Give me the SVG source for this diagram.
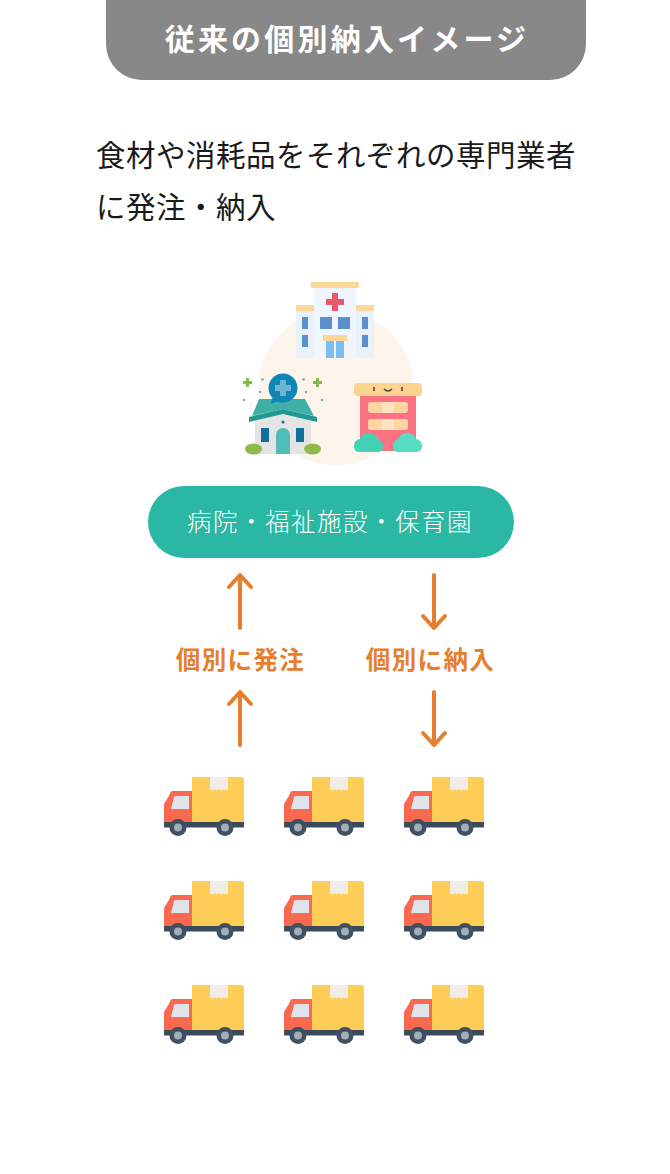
<svg xmlns="http://www.w3.org/2000/svg" width="670" height="1174" viewBox="0 0 670 1174">
<style>
text{font-family:"Noto Sans CJK JP","Noto Sans",sans-serif}
.h{font-size:30px;font-weight:700;fill:#fff;letter-spacing:3.2px}
.b{font-size:29.5px;fill:#1a1a1a;letter-spacing:.5px}
.p{font-size:24.5px;fill:#fff;font-weight:300;letter-spacing:1.5px}
.o{font-size:24.5px;font-weight:700;fill:#e67e2e;letter-spacing:1.4px}
.a{fill:none;stroke:#e67e2e;stroke-width:4;stroke-linecap:round;stroke-linejoin:round}
</style>
<defs>
<g id="truck">
<path d="M28 0h49a3 3 0 0 1 3 3v43H28z" fill="#fecd57"/>
<path d="M46 0h18v12l-2 1.500-2-1-2 1-3-1-2 1-2-1-3 1-2-1z" fill="#f0ede6"/>
<path d="M6 17a3 3 0 0 1 3-3h19v32H0V27z" fill="#f8694f"/>
<path d="M10 20a2 2 0 0 1 1.500-1H25v13H7z" fill="#dfe3ea"/>
<rect x="0" y="45" width="80" height="5.500" fill="#3a4b5c"/>
<circle cx="14" cy="50.500" r="8.500" fill="#3f5163"/><circle cx="14" cy="50.500" r="4" fill="#a5adb6"/>
<circle cx="61" cy="50.500" r="8.500" fill="#3f5163"/><circle cx="61" cy="50.500" r="4" fill="#a5adb6"/>
</g>
</defs>
<rect width="670" height="1174" fill="#fff"/>
<g id="header"><path d="M106 0H586V44a36 36 0 0 1-36 36H142a36 36 0 0 1-36-36z" fill="#888"/><text class="h" x="347" y="50" text-anchor="middle">従来の個別納入イメージ</text></g>
<g id="description"><text class="b" x="96" y="166">食材や消耗品をそれぞれの専門業者</text><text class="b" x="96" y="218">に発注・納入</text></g>
<g id="facilities">
<circle cx="336" cy="388" r="77.500" fill="#fdf5ec"/>
<g id="hospital">
<rect x="296" y="311" width="78" height="47" fill="#e9f2fc"/><rect x="314" y="288" width="42" height="70" fill="#f0f6fd"/>
<rect x="311" y="282" width="48" height="6" rx="1" fill="#fbd79a"/><rect x="296" y="305" width="18" height="6" fill="#fbd79a"/><rect x="356" y="305" width="18" height="6" fill="#fbd79a"/>
<path d="M332 293h6v6h6v6h-6v6h-6v-6h-6v-6h6z" fill="#e8586a"/>
<g fill="#5b8fd0"><rect x="302" y="317" width="6" height="12"/><rect x="302" y="335" width="6" height="12"/><rect x="362" y="317" width="6" height="12"/><rect x="362" y="335" width="6" height="12"/><rect x="320" y="317" width="12" height="12"/><rect x="338" y="317" width="12" height="12"/></g>
<rect x="323" y="335" width="24" height="6" fill="#fbd79a"/><rect x="326" y="341" width="8" height="17" fill="#7dbcf0"/><rect x="336" y="341" width="8" height="17" fill="#7dbcf0"/>
</g>
<g id="clinic">
<rect x="255" y="415" width="56" height="39" fill="#e4e4e4"/>
<path d="M259 399h46l9 17-31-7-31 7z" fill="#3fb0a8"/><path d="M249 417l34-8 34 8v5l-34-8-34 8z" fill="#1f9a92"/>
<circle cx="283" cy="388" r="14.500" fill="#0f86b4"/><path d="M272 398l-1 6 8-3z" fill="#0f86b4"/><path d="M280 380h6v5h5v6h-5v5h-6v-5h-5v-6h5z" fill="#6fb6d2"/>
<circle cx="283" cy="422" r="1.500" fill="#126f9c"/>
<rect x="261" y="428" width="8" height="14" fill="#126f9c"/><rect x="296" y="428" width="8" height="14" fill="#126f9c"/>
<path d="M276 454v-19a7 7 0 0 1 14 0v19z" fill="#4fbcb8"/>
<ellipse cx="253.500" cy="449" rx="8.500" ry="5.500" fill="#8dbb48"/><ellipse cx="312.500" cy="449" rx="8.500" ry="5.500" fill="#8dbb48"/>
<path d="M246 378h3v3h3v3h-3v3h-3v-3h-3v-3h3zM316 378h3v3h3v3h-3v3h-3v-3h-3v-3h3z" fill="#84b94a"/>
<g fill="#6ba9b5"><circle cx="262.500" cy="379.500" r="1.200"/><circle cx="303.500" cy="379.500" r="1.200"/><circle cx="260" cy="392" r="1.200"/><circle cx="306" cy="392" r="1.200"/><circle cx="244" cy="400" r="1.200"/><circle cx="322" cy="400" r="1.200"/></g>
</g>
<g id="nursery">
<rect x="360" y="394" width="56" height="57" fill="#fb7283"/>
<rect x="354" y="383" width="68" height="13" rx="4" fill="#fbd38f"/>
<rect x="368" y="402" width="40" height="11" rx="3" fill="#fcd5a0"/><rect x="368" y="419" width="40" height="11" rx="3" fill="#fcd5a0"/>
<rect x="382" y="402" width="12" height="11" fill="#fde3bf"/><rect x="382" y="419" width="12" height="11" fill="#fde3bf"/>
<path d="M374 387v4M402 387v4M384 389q4 4 8 0" stroke="#444" stroke-width="1.500" fill="none"/>
<path d="M360 452q-6 0-6-6 0-6 6-7 2-6 9-6 6 0 9 6 5 2 5 7 0 6-5 6z" fill="#42d3b6"/><path d="M416 452q6 0 6-6 0-6-6-7-2-6-9-6-6 0-9 6-5 2-5 7 0 6 5 6z" fill="#58dcc4"/>
</g>
</g>
<g id="pill"><rect x="148" y="486" width="366" height="72" rx="36" fill="#2ab7a3"/><text class="p" x="330" y="531" text-anchor="middle">病院・福祉施設・保育園</text></g>
<g id="connectors">
<path class="a" d="M240 628V575M229 587L240 575L251 587"/>
<path class="a" d="M240 745V692M229 704L240 692L251 704"/>
<path class="a" d="M434 575V628M423 616L434 628L445 616"/>
<path class="a" d="M434 692V745M423 733L434 745L445 733"/>
</g>
<g id="label-order"><text class="o" x="240.500" y="669" text-anchor="middle">個別に発注</text></g>
<g id="label-deliver"><text class="o" x="430.500" y="669" text-anchor="middle">個別に納入</text></g>
<g id="truck-1"><use href="#truck" x="164" y="777"/></g><g id="truck-2"><use href="#truck" x="284" y="777"/></g><g id="truck-3"><use href="#truck" x="404" y="777"/></g>
<g id="truck-4"><use href="#truck" x="164" y="881"/></g><g id="truck-5"><use href="#truck" x="284" y="881"/></g><g id="truck-6"><use href="#truck" x="404" y="881"/></g>
<g id="truck-7"><use href="#truck" x="164" y="985"/></g><g id="truck-8"><use href="#truck" x="284" y="985"/></g><g id="truck-9"><use href="#truck" x="404" y="985"/></g>
</svg>
